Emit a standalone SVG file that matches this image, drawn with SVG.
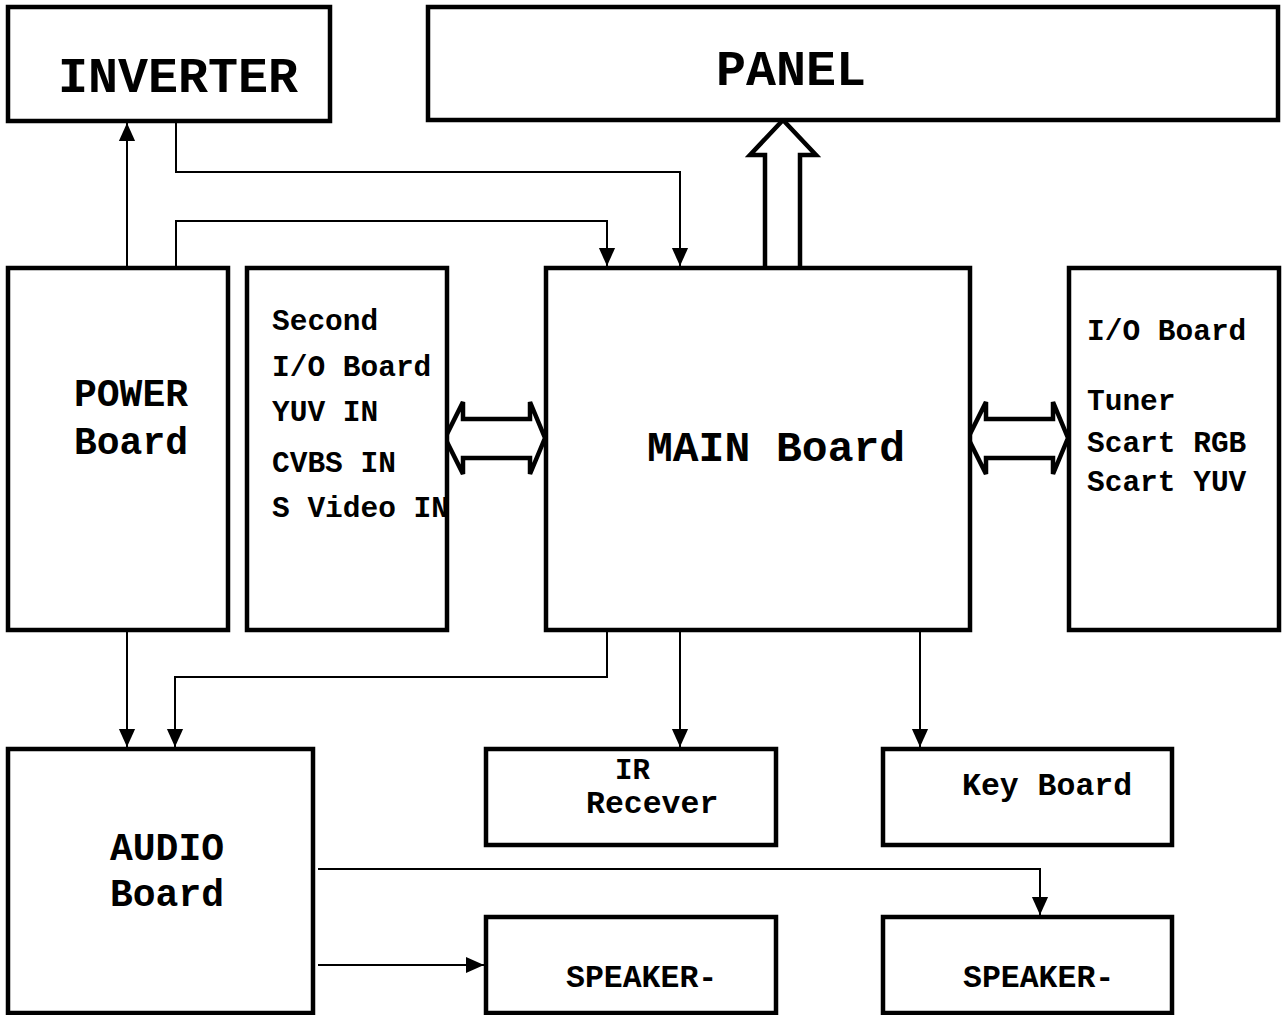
<svg xmlns="http://www.w3.org/2000/svg" width="1283" height="1015" viewBox="0 0 1283 1015">
<style>
.box{fill:#fff;stroke:#000;stroke-width:4.5}
.t{font-family:"Liberation Mono","Courier New",monospace;font-weight:bold;fill:#000}
.big{font-size:50px}
.mid{font-size:38px}
.sm{font-size:29.5px}
.sm2{font-size:31.5px}
.ln{fill:none;stroke:#000;stroke-width:2}
.hol{fill:#fff;stroke:#000;stroke-width:4.5;stroke-linejoin:miter}
</style>
<defs>
<marker id="ah" markerWidth="18" markerHeight="20" refX="20" refY="9" orient="auto" markerUnits="userSpaceOnUse" viewBox="0 0 20 18">
<path d="M0,0 L20,9 L0,18 Z" fill="#000"/>
</marker>
</defs>
<rect width="1283" height="1015" fill="#fff"/>
<g id="connectors">
<path class="ln" d="M127,268 V123" marker-end="url(#ah)"/>
<path class="ln" d="M176,123 V172 H680 V266" marker-end="url(#ah)"/>
<path class="ln" d="M176,268 V221 H607 V266" marker-end="url(#ah)"/>
<path class="ln" d="M127,630 V747" marker-end="url(#ah)"/>
<path class="ln" d="M607,630 V677 H175 V747" marker-end="url(#ah)"/>
<path class="ln" d="M680,630 V747" marker-end="url(#ah)"/>
<path class="ln" d="M920,630 V747" marker-end="url(#ah)"/>
<path class="ln" d="M318,869 H1040 V915" marker-end="url(#ah)"/>
<path class="ln" d="M318,965 H484" marker-end="url(#ah)"/>
<path class="hol" d="M765,268 V155 H750 L783,120 L816,155 H800 V268"/>
<path class="hol" d="M463,402 L445,438 L463,474 V458 H530 V474 L545,438 L530,402 V419 H463 Z"/>
<path class="hol" d="M986,402 L968,438 L986,474 V458 H1053 V474 L1068,438 L1053,402 V419 H986 Z"/>
</g>
<g id="inverter">
<rect class="box" x="8" y="7" width="322" height="114"/>
<text class="t big" x="58" y="92">INVERTER</text>
</g>
<g id="panel">
<rect class="box" x="428" y="7" width="850" height="113"/>
<text class="t big" x="716" y="85">PANEL</text>
</g>
<g id="power">
<rect class="box" x="8" y="268" width="220" height="362"/>
<text class="t mid" x="74" y="406">POWER</text>
<text class="t mid" x="74" y="454">Board</text>
</g>
<g id="second-io">
<rect class="box" x="247" y="268" width="200" height="362"/>
<text class="t sm" x="272" y="330">Second</text>
<text class="t sm" x="272" y="376">I/O Board</text>
<text class="t sm" x="272" y="421">YUV IN</text>
<text class="t sm" x="272" y="472">CVBS IN</text>
<text class="t sm" x="272" y="517">S Video IN</text>
</g>
<g id="main">
<rect class="box" x="546" y="268" width="424" height="362"/>
<text class="t" style="font-size:43px" x="647" y="461">MAIN Board</text>
</g>
<g id="io-board">
<rect class="box" x="1069" y="268" width="210" height="362"/>
<text class="t sm" x="1087" y="340">I/O Board</text>
<text class="t sm" x="1087" y="410">Tuner</text>
<text class="t sm" x="1087" y="452">Scart RGB</text>
<text class="t sm" x="1087" y="491">Scart YUV</text>
</g>
<g id="audio">
<rect class="box" x="8" y="749" width="305" height="264"/>
<text class="t mid" x="110" y="860">AUDIO</text>
<text class="t mid" x="110" y="906">Board</text>
</g>
<g id="ir">
<rect class="box" x="486" y="749" width="290" height="96"/>
<text class="t" style="font-size:29px" x="615" y="779">IR</text>
<text class="t sm2" x="586" y="813">Recever</text>
</g>
<g id="key">
<rect class="box" x="883" y="749" width="289" height="96"/>
<text class="t sm2" x="962" y="795">Key Board</text>
</g>
<g id="speaker1">
<rect class="box" x="486" y="917" width="290" height="96"/>
<text class="t sm2" x="566" y="987">SPEAKER-</text>
</g>
<g id="speaker2">
<rect class="box" x="883" y="917" width="289" height="96"/>
<text class="t sm2" x="963" y="987">SPEAKER-</text>
</g>
</svg>
